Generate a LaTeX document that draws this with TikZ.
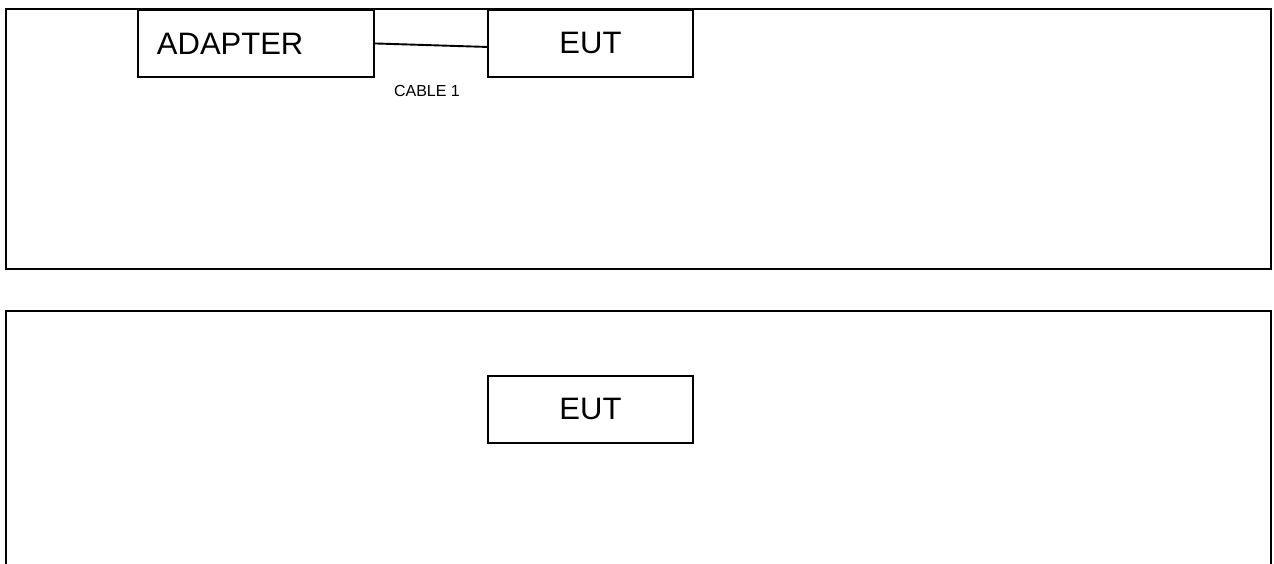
\documentclass[tikz,border=0pt]{standalone}
\usepackage{fontspec}
\setmainfont{Liberation Sans}
\begin{document}
\begin{tikzpicture}[x=1pt,y=-1pt,
  frame/.style={draw=black, line width=2pt},
  unit/.style={draw=black, line width=1.9pt, inner sep=0pt, anchor=north west,
    font=\fontsize{31}{37}\selectfont},
  cable/.style={draw=black, line width=1.9pt},
  tag/.style={font=\fontsize{16}{19}\selectfont, inner sep=0pt}]
  \useasboundingbox (0,0) rectangle (1274,564);
  % upper enclosure
  \draw[frame] (6,9) rectangle (1271,269);
  \node[unit, minimum width=236pt, minimum height=67pt, text width=198pt,
        inner xsep=19pt, align=left]
        (adapter) at (137,9) {ADAPTER};
  \node[unit, minimum width=205pt, minimum height=67pt] (eutA) at (487,9) {EUT};
  \draw[cable] (adapter.east) -- ([yshift=-3.5pt]eutA.west);
  \node[tag] (cablelabel) at (427,91) {CABLE 1};
  % lower enclosure, continuing below the page edge
  \draw[frame] (6,564) -- (6,311) -- (1271,311) -- (1271,564);
  \node[unit, minimum width=205pt, minimum height=67pt] (eutB) at (487,375) {EUT};
\end{tikzpicture}
\end{document}
